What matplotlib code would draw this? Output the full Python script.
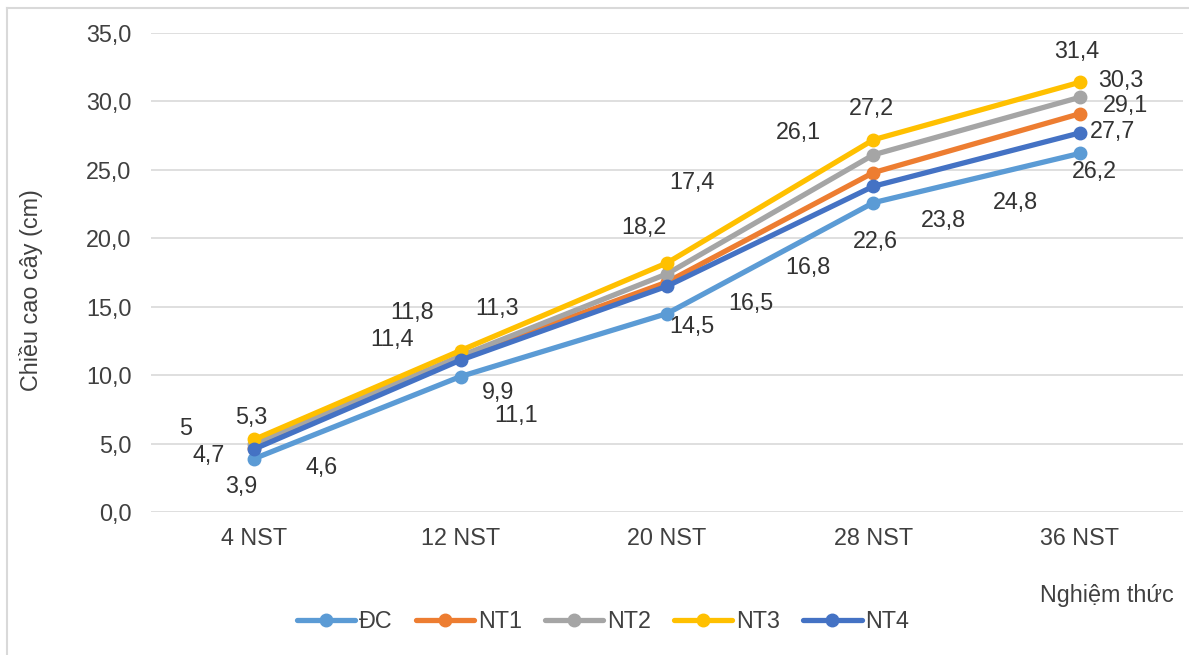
import matplotlib
matplotlib.use("Agg")
import matplotlib.pyplot as plt
from matplotlib.lines import Line2D

plt.rcParams['font.family'] = ['Liberation Sans', 'DejaVu Sans']

categories = ["4 NST", "12 NST", "20 NST", "28 NST", "36 NST"]
series_names = ["ĐC", "NT1", "NT2", "NT3", "NT4"]
dc = [3.9, 9.9, 14.5, 22.6, 26.2]
nt1 = [4.7, 11.3, 16.8, 24.8, 29.1]
nt2 = [5.0, 11.4, 17.4, 26.1, 30.3]
nt3 = [5.3, 11.8, 18.2, 27.2, 31.4]
nt4 = [4.6, 11.1, 16.5, 23.8, 27.7]
yticks = [0, 5, 10, 15, 20, 25, 30, 35]

colors = ["#5B9BD5", "#ED7D31", "#A5A5A5", "#FFC000", "#4472C4"]
all_values = [dc, nt1, nt2, nt3, nt4]

# label offsets in pixels (dx, dy) per series per category
offsets = {
    "ĐC":  [(-13, -28), (37, -16), (25, -13), (2, -39), (15, -18)],
    "NT1": [(-46, -8), (36, 49), (141, 15), (142, -30), (46, 8)],
    "NT2": [(-69, 15), (-69, 16), (25, 91), (-75, 22), (41, 17)],
    "NT3": [(-3, 22), (-49, 38), (-23, 35), (-2, 31), (-3, 31)],
    "NT4": [(67, -18), (55, -55), (84, -17), (70, -34), (33, 1)],
}

W, H = 1189, 655
fig = plt.figure(figsize=(W / 100, H / 100), dpi=100)
ax = fig.add_axes([151 / W, 1 - 512 / H, 1032 / W, 479 / H])

x = list(range(len(categories)))
FS = 16.8
label_color = "#333333"
tick_color = "#404040"
for name, vals, col in zip(series_names, all_values, colors):
    ax.plot(x, vals, color=col, lw=3.8, marker='o', ms=9, label=name,
            solid_capstyle='round', zorder=3)
for name, vals in zip(series_names, all_values):
    for xi, v, (dx, dy) in zip(x, vals, offsets[name]):
        txt = f"{v:g}".replace('.', ',')
        ax.annotate(txt, (xi, v), xytext=(dx, dy), textcoords='offset pixels',
                    ha='center', va='center', fontsize=FS, color=label_color,
                    zorder=5)

ax.set_xlim(-0.5, len(categories) - 0.5)
ax.set_ylim(0, 35)
ax.set_yticks(yticks)
ax.set_yticklabels([f"{t:.1f}".replace('.', ',') for t in yticks])
ax.set_xticks(x)
ax.set_xticklabels(categories)
ax.tick_params(axis='both', length=0, labelsize=FS, labelcolor=tick_color)
ax.tick_params(axis='y', pad=14)
ax.tick_params(axis='x', pad=11)
ax.grid(axis='y', color="#D9D9D9", lw=1.2, zorder=0)
ax.set_axisbelow(True)
for s in ax.spines.values():
    s.set_visible(False)

ax.set_ylabel("Chiều cao cây (cm)", fontsize=FS, color=tick_color)
ax.yaxis.set_label_coords(-0.1047, 0.463)
ax.set_xlabel("Nghiệm thức", fontsize=FS, color=tick_color)
ax.xaxis.set_label_coords(0.926, -0.150)

fig.legend(loc='center', bbox_to_anchor=(603 / W, 1 - 622 / H), ncol=5,
           frameon=False, fontsize=FS, handlelength=2.5, handletextpad=0.15,
           columnspacing=1.0, labelcolor=tick_color)

# chart-area border (only top and left edges are visible in the picture)
fig.add_artist(Line2D([7 / W, 7 / W], [0, 1 - 8 / H], transform=fig.transFigure,
                      color="#D9D9D9", lw=1.5))
fig.add_artist(Line2D([7 / W, 1], [1 - 8 / H, 1 - 8 / H], transform=fig.transFigure,
                      color="#D9D9D9", lw=1.5))

fig.savefig("out.png", dpi=100, facecolor="white")
